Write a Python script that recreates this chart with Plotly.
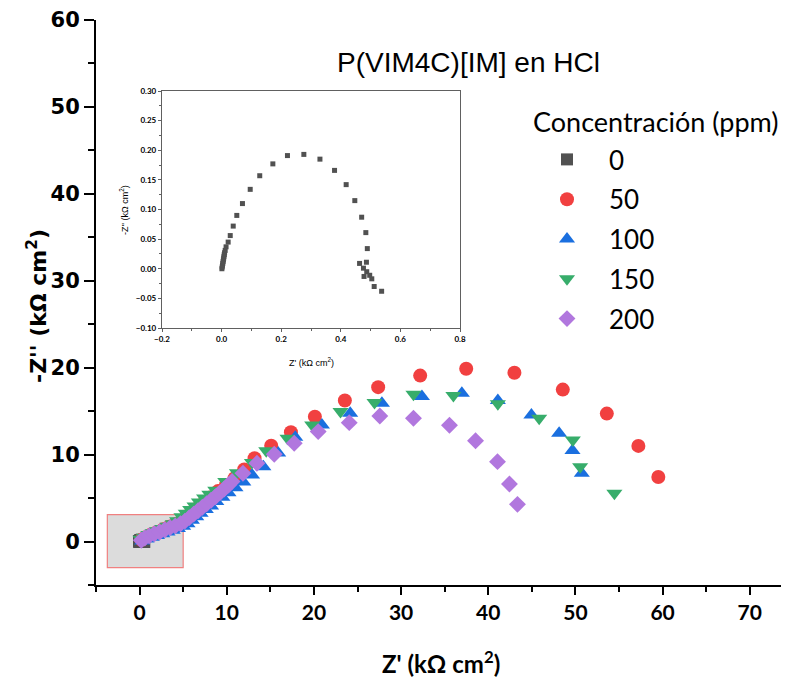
import plotly.graph_objects as go

# ---------------- data ----------------
series_names = ["0", "50", "100", "150", "200"]
legend_title = "Concentración (ppm)"

re0 = [0.001, 0.002, 0.003, 0.004, 0.005, 0.006, 0.007, 0.008, 0.009, 0.010, 0.012, 0.015,
       0.022, 0.029, 0.039, 0.051, 0.070, 0.096, 0.128, 0.172, 0.221, 0.276, 0.330, 0.379,
       0.418, 0.447, 0.470, 0.484, 0.489, 0.486, 0.463, 0.476, 0.487, 0.478, 0.497, 0.504,
       0.512, 0.537]
im0 = [0.000, 0.003, 0.006, 0.009, 0.012, 0.015, 0.018, 0.021, 0.024, 0.027, 0.031, 0.037,
       0.045, 0.056, 0.072, 0.090, 0.110, 0.134, 0.157, 0.177, 0.191, 0.193, 0.185, 0.166,
       0.142, 0.115, 0.087, 0.061, 0.034, 0.011, 0.009, 0.001, -0.005, -0.013, -0.011, -0.017,
       -0.030, -0.038]

re50 = [0.2, 0.7, 1.3, 2.0, 2.7, 3.4, 4.1, 4.8, 5.4, 6.0, 6.7, 7.4, 8.2, 9.0, 9.9, 10.9, 12.0,
        13.19, 15.1, 17.36, 20.11, 23.55, 27.37, 32.19, 37.47, 43.00, 48.55, 53.60, 57.22, 59.51]
im50 = [0.2, 0.5, 0.8, 1.1, 1.4, 1.7, 2.0, 2.4, 2.9, 3.4, 3.9, 4.5, 5.1, 5.8, 6.5, 7.3, 8.3,
        9.58, 11.03, 12.58, 14.37, 16.22, 17.76, 19.09, 19.87, 19.41, 17.48, 14.72, 11.0, 7.43]

re100 = [0.3, 0.8, 1.4, 2.0, 2.6, 3.2, 3.8, 4.4, 5.0, 5.5, 6.0, 6.5, 7.0, 7.6, 8.2, 8.8, 9.5,
         10.2, 11.0, 11.9, 12.9, 14.2, 15.9, 17.86, 20.92, 24.16, 27.8, 32.39, 36.97, 41.1,
         44.95, 48.13, 49.66, 50.73]
im100 = [0.05, 0.3, 0.5, 0.7, 0.9, 1.1, 1.3, 1.5, 1.75, 2.05, 2.45, 2.85, 3.25, 3.7, 4.1, 4.6,
         5.1, 5.6, 6.2, 6.85, 7.66, 8.6, 10.2, 12.0, 13.42, 14.76, 15.92, 16.68, 17.07, 16.22,
         14.57, 12.46, 10.46, 7.85]

re150 = [0.1, 0.5, 1.0, 1.5, 2.0, 2.6, 3.2, 3.8, 4.3, 4.8, 5.3, 5.8, 6.3, 6.8, 7.4, 8.0, 8.68,
         9.83, 11.17, 12.89, 14.53, 16.97, 19.8, 23.05, 26.95, 31.42, 36.0, 41.1, 45.84, 49.7,
         50.54, 54.47]
im150 = [0.25, 0.5, 0.8, 1.0, 1.25, 1.5, 1.75, 2.05, 2.4, 2.85, 3.25, 3.7, 4.1, 4.55, 5.0, 5.45,
         5.9, 6.9, 7.9, 9.1, 10.45, 11.89, 13.42, 14.95, 15.99, 16.95, 16.8, 15.84, 14.19,
         11.69, 8.61, 5.55]

re200 = [0.2, 0.6, 1.1, 1.7, 2.3, 2.9, 3.5, 4.1, 4.7, 5.2, 5.7, 6.2, 6.7, 7.2, 7.7, 8.2, 8.7,
         9.2, 9.7, 10.2, 10.6, 11.86, 13.46, 15.45, 17.74, 20.49, 24.05, 27.56, 31.42, 35.55,
         38.54, 41.06, 42.43, 43.35]
im200 = [0.15, 0.4, 0.65, 0.9, 1.1, 1.35, 1.6, 1.8, 2.05, 2.35, 2.75, 3.15, 3.55, 3.95, 4.35,
         4.75, 5.15, 5.6, 6.05, 6.5, 6.9, 7.85, 9.0, 10.04, 11.31, 12.65, 13.68, 14.45, 14.19,
         13.38, 11.6, 9.19, 6.62, 4.28]

# zoom-box around origin (data units)
box_x = [-3.7, 5.0]
box_y = [-3.0, 3.1]

# ---------------- style ----------------
colors = ["#515151", "#F14040", "#1A6FDF", "#37AD6B", "#B177DE"]
symbols = ["square", "circle", "triangle-up", "triangle-down", "diamond"]
sizes = [12, 14, 14, 14, 13]

xs = [re0, re50, re100, re150, re200]
ys = [im0, im50, im100, im150, im200]

fig = go.Figure()
for i in range(5):
    fig.add_trace(go.Scatter(
        x=xs[i], y=ys[i], mode="markers", name=series_names[i],
        legendgroup="g" + str(i),
        marker=dict(symbol=symbols[i], size=sizes[i], color=colors[i], line=dict(width=0)),
        xaxis="x", yaxis="y"))

# inset
fig.add_trace(go.Scatter(
    x=re0, y=im0, mode="markers", showlegend=False,
    marker=dict(symbol="square", size=5, color=colors[0], line=dict(width=0)),
    xaxis="x2", yaxis="y2"))

fig.add_shape(type="rect", xref="x", yref="y", x0=box_x[0], x1=box_x[1], y0=box_y[0], y1=box_y[1],
              fillcolor="#DCDCDC", line=dict(color="#F08080", width=1.2), layer="below")

# page has an 8px body margin: work in page pixels and convert
OFF = 8
W, H = 789 - OFF, 686 - 2 * OFF
ML, MR, MT, MB = 96 - OFF, 0, 20 - OFF, H - (585 - OFF)
pw = W - ML - MR
ph = H - MT - MB

def px2paper_x(px):
    return (px - OFF - ML) / pw

def px2paper_y(py):
    return (H - MB - (py - OFF)) / ph

ARIAL = "Liberation Sans"

fig.update_layout(
    width=W, height=H,
    margin=dict(l=ML, r=MR, t=MT, b=MB, pad=0, autoexpand=False),
    paper_bgcolor="white", plot_bgcolor="white",
    showlegend=True,
    xaxis=dict(
        domain=[0, 1], range=[-5, 74.5], tick0=0, dtick=10, automargin=False,
        showgrid=False, zeroline=False,
        showline=True, linecolor="black", linewidth=2,
        ticks="outside", ticklen=8, tickwidth=2, tickcolor="black",
        minor=dict(dtick=5, tick0=0, ticks="outside", ticklen=5, tickwidth=2, tickcolor="black", showgrid=False),
        tickfont=dict(family="Lato", size=21, color="black", weight="bold"),
    ),
    yaxis=dict(
        domain=[0, 1], range=[-5, 60], tick0=0, dtick=10, automargin=False,
        showgrid=False, zeroline=False,
        showline=True, linecolor="black", linewidth=2,
        ticks="outside", ticklen=10, tickwidth=2, tickcolor="black",
        minor=dict(dtick=5, tick0=0, ticks="outside", ticklen=6, tickwidth=2, tickcolor="black", showgrid=False),
        tickfont=dict(family="DejaVu Sans", size=21, color="black", weight="bold"),
    ),
    xaxis2=dict(
        domain=[px2paper_x(162), px2paper_x(460)], anchor="y2", automargin=False,
        range=[-0.2, 0.8], tick0=-0.2, dtick=0.2, tickformat=".1f",
        showgrid=False, zeroline=False,
        showline=True, mirror=True, linecolor="#606060", linewidth=1.3,
        ticks="outside", ticklen=3, tickwidth=1, tickcolor="#606060",
        minor=dict(dtick=0.1, ticks="outside", ticklen=2, tickwidth=1, tickcolor="#606060", showgrid=False),
        tickfont=dict(family="Lato", size=8, color="black", weight="bold"),
    ),
    yaxis2=dict(
        domain=[px2paper_y(328), px2paper_y(91)], anchor="x2", automargin=False,
        range=[-0.10, 0.30], tick0=0, dtick=0.05, tickformat=".2f",
        showgrid=False, zeroline=False,
        showline=True, mirror=True, linecolor="#606060", linewidth=1.3,
        ticks="outside", ticklen=3, tickwidth=1, tickcolor="#606060",
        minor=dict(dtick=0.025, ticks="outside", ticklen=2, tickwidth=1, tickcolor="#606060", showgrid=False),
        tickfont=dict(family="Lato", size=8, color="black", weight="bold"),
    ),
    legend=dict(
        x=px2paper_x(525), y=px2paper_y(136), xanchor="left", yanchor="top",
        bgcolor="rgba(0,0,0,0)", borderwidth=0,
        font=dict(family="Lato", size=26, color="black"),
        itemwidth=74, tracegroupgap=3,
    ),
    annotations=[
        dict(text=legend_title, xref="paper", yref="paper",
             x=px2paper_x(531), y=px2paper_y(122), xanchor="left", yanchor="middle",
             showarrow=False, font=dict(family="Lato", size=27, color="black")),
        dict(text="P(VIM4C)[IM] en HCl", xref="paper", yref="paper",
             x=px2paper_x(469), y=px2paper_y(63), xanchor="center", yanchor="middle",
             showarrow=False, font=dict(family=ARIAL, size=28, color="black")),
        dict(text="-Z'' (kΩ cm<sup>2</sup>)", xref="paper", yref="paper",
             x=px2paper_x(37), y=px2paper_y(306), xanchor="center", yanchor="middle",
             textangle=-90, showarrow=False,
             font=dict(family="DejaVu Sans", size=22, color="black", weight="bold")),
        dict(text="Z' (kΩ cm<sup>2</sup>)", xref="paper", yref="paper",
             x=px2paper_x(441), y=px2paper_y(662), xanchor="center", yanchor="middle",
             showarrow=False, font=dict(family="Lato", size=24, color="black", weight="bold")),
        dict(text="-Z'' (kΩ cm<sup>2</sup>)", xref="paper", yref="paper",
             x=px2paper_x(124), y=px2paper_y(210), xanchor="center", yanchor="middle",
             textangle=-90, showarrow=False,
             font=dict(family=ARIAL, size=9, color="black")),
        dict(text="Z' (kΩ cm<sup>2</sup>)", xref="paper", yref="paper",
             x=px2paper_x(311), y=px2paper_y(362), xanchor="center", yanchor="middle",
             showarrow=False, font=dict(family=ARIAL, size=9, color="black")),
    ],
)

fig.write_html("out.html")
